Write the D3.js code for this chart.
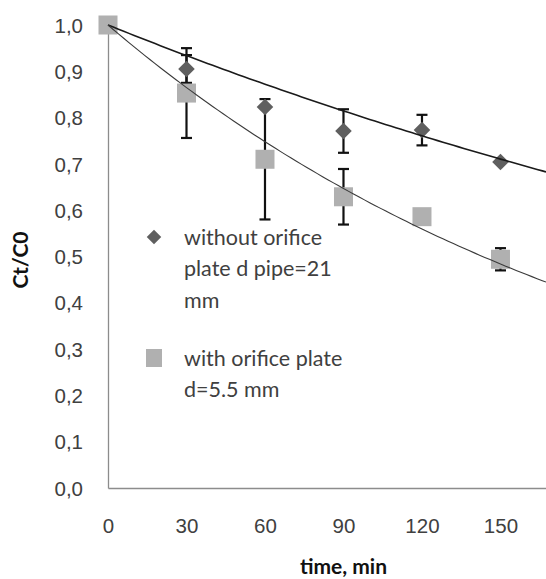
<!DOCTYPE html>
<html>
<head>
<meta charset="utf-8">
<script src="https://cdn.jsdelivr.net/npm/d3@7"></script>
<style>
  body { margin: 0; background: #fff; }
  svg { display: block; font-family: Lato, "Open Sans", sans-serif; }
</style>
</head>
<body>
<svg width="546" height="579"></svg>
<script>
// data
var times = [0, 30, 60, 90, 120, 150];
var withoutPlate = [1.0, 0.905, 0.823, 0.771, 0.773, 0.704];
var withoutPlateErr = [0, 0.03, 0, 0.047, 0.033, 0];
var withPlate = [1.0, 0.853, 0.71, 0.629, 0.586, 0.494];
var withPlateErr = [0, 0.097, 0.13, 0.06, 0, 0.024];
var yTicks = [0, 0.1, 0.2, 0.3, 0.4, 0.5, 0.6, 0.7, 0.8, 0.9, 1.0];
var xTicks = [0, 30, 60, 90, 120, 150];
// exponential trend lines, Ct/C0 = exp(-k t)
var trendK = [0.00228, 0.00484];
var legendLines = [["without orifice", "plate d pipe=21", "mm"], ["with orifice plate", "d=5.5 mm"]];

var svg = d3.select("svg");
var plotLeft = 108, plotRight = 546, plotTop = 25, plotBottom = 488;

var x = d3.scaleLinear().domain([0, 167.4]).range([plotLeft, plotRight]);
var y = d3.scaleLinear().domain([0, 1]).range([plotBottom, plotTop]);

//axes
var yAxis = d3.axisLeft(y).tickValues(yTicks).tickSize(0).tickPadding(25)
	.tickFormat(function(d){ return d3.format(".1f")(d).replace(".", ","); });
var gy = svg.append("g").attr("transform", "translate(" + plotLeft + ",0)").call(yAxis);
gy.select(".domain").attr("stroke", "#8c8c8c").attr("stroke-width", 1.3);
gy.selectAll("text").attr("font-size", 20.5).attr("fill", "#404040").attr("dy", "0.35em");

var xAxis = d3.axisBottom(x).tickValues(xTicks).tickSize(0).tickPadding(30);
var gx = svg.append("g").attr("transform", "translate(0," + plotBottom + ")").call(xAxis);
gx.select(".domain").attr("stroke", "#8c8c8c").attr("stroke-width", 1.3);
gx.selectAll("text").attr("font-size", 20.5).attr("fill", "#404040");

svg.append("text")
	.attr("transform", "translate(28,260) rotate(-90)")
	.attr("text-anchor", "middle")
	.attr("font-size", 21).attr("font-weight", "bold").attr("fill", "#111")
	.text("Ct/C0");
svg.append("text")
	.attr("x", x(90)).attr("y", 574)
	.attr("text-anchor", "middle")
	.attr("font-size", 21).attr("font-weight", "bold").attr("fill", "#111")
	.text("time, min");

//error bars
function errorBars(vals, errs){
	var g = svg.append("g").attr("stroke", "#111").attr("stroke-width", 2.2);
	times.forEach(function(t, i){
		if(!errs[i]) return;
		var cx = x(t), y1 = y(vals[i] + errs[i]), y2 = y(vals[i] - errs[i]);
		g.append("line").attr("x1", cx).attr("x2", cx).attr("y1", y1).attr("y2", y2);
		g.append("line").attr("x1", cx - 5.5).attr("x2", cx + 5.5).attr("y1", y1).attr("y2", y1);
		g.append("line").attr("x1", cx - 5.5).attr("x2", cx + 5.5).attr("y1", y2).attr("y2", y2);
	});
}
errorBars(withoutPlate, withoutPlateErr);
errorBars(withPlate, withPlateErr);

//markers
var diamond = d3.symbol().type(d3.symbolDiamond2).size(175);
svg.append("g").selectAll("path").data(withoutPlate).join("path")
	.attr("d", diamond)
	.attr("transform", function(d, i){ return "translate(" + x(times[i]) + "," + y(d) + ")"; })
	.attr("fill", "#5f5f5f");
svg.append("g").selectAll("rect").data(withPlate).join("rect")
	.attr("x", function(d, i){ return x(times[i]) - 9.5; })
	.attr("y", function(d){ return y(d) - 9.5; })
	.attr("width", 19).attr("height", 19)
	.attr("fill", "#b0b0b0");

//trend lines
var tGrid = d3.range(0, 168, 2).concat([167.4]);
var line = d3.line().x(function(d){ return x(d[0]); }).y(function(d){ return y(d[1]); });
svg.append("path")
	.attr("d", line(tGrid.map(function(t){ return [t, Math.exp(-trendK[0] * t)]; })))
	.attr("fill", "none").attr("stroke", "#1a1a1a").attr("stroke-width", 1.6);
svg.append("path")
	.attr("d", line(tGrid.map(function(t){ return [t, Math.exp(-trendK[1] * t)]; })))
	.attr("fill", "none").attr("stroke", "#3a3a3a").attr("stroke-width", 1.1);

//legend
var leg = svg.append("g").attr("font-size", 21.5).attr("fill", "#404040");
leg.append("path").attr("d", d3.symbol().type(d3.symbolDiamond2).size(135))
	.attr("transform", "translate(154,237)").attr("fill", "#5f5f5f");
leg.append("rect").attr("x", 146).attr("y", 349).attr("width", 16).attr("height", 18).attr("fill", "#b0b0b0");
legendLines[0].forEach(function(s, i){
	leg.append("text").attr("x", 184).attr("y", 237 + i * 31.5).attr("dy", "0.35em").text(s);
});
legendLines[1].forEach(function(s, i){
	leg.append("text").attr("x", 184).attr("y", 358 + i * 31.5).attr("dy", "0.35em").text(s);
});
</script>
</body>
</html>
